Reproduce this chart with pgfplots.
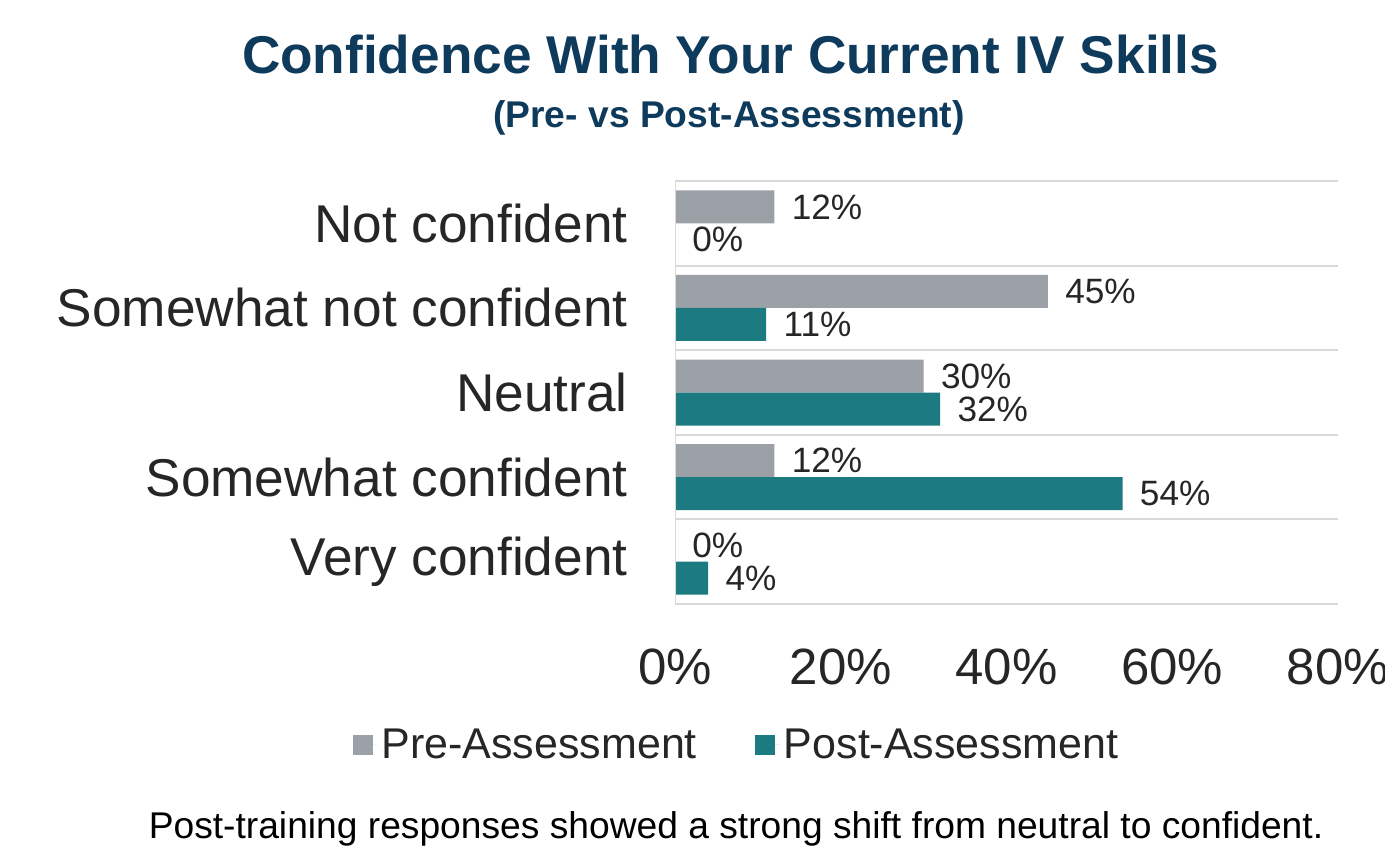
\documentclass[border=0pt]{standalone}
\usepackage{fontspec}
\setmainfont{Liberation Sans}
\usepackage{pgfplots}
\pgfplotsset{compat=1.18}

\definecolor{preGray}{RGB}{155,161,167}
\definecolor{postTeal}{RGB}{28,123,128}
\definecolor{titleBlue}{RGB}{14,58,92}
\definecolor{txt}{RGB}{38,38,38}
\definecolor{gridGray}{RGB}{217,217,217}

\begin{document}
\begin{tikzpicture}
\begin{axis}[
  at={(337.5pt,-302pt)}, anchor=south west,
  scale only axis,
  width=331.5pt, height=211.5pt,
  xbar, bar width=16.5pt,
  xmin=0, xmax=80, ymin=-0.5, ymax=4.5,
  axis line style={draw=none},
  xtick={0,20,40,60,80},
  xticklabel={\pgfmathprintnumber{\tick}\%},
  xticklabel style={font=\fontsize{25.5}{28}\selectfont, text=txt, anchor=north, inner sep=0pt, yshift=-22pt},
  ytick={0,1,2,3,4},
  yticklabels={Very confident,Somewhat confident,Neutral,Somewhat not confident,Not confident},
  yticklabel style={font=\fontsize{26.6}{30}\selectfont, text=txt, anchor=east, inner sep=0pt, xshift=-23.5pt},
  major tick length=0pt,
  extra y ticks={-0.5,0.5,1.5,2.5,3.5,4.5},
  extra y tick labels={},
  extra y tick style={grid=major, major grid style={draw=gridGray, line width=1pt}},
  /pgf/number format/assume math mode=true,
  point meta=x,
  nodes near coords={\pgfmathprintnumber{\pgfplotspointmeta}\%},
  nodes near coords style={anchor=west, inner sep=0pt, xshift=8.5pt, font=\fontsize{17.6}{20}\selectfont, text=txt},
  legend columns=2,
  legend style={draw=none, at={(0.0943,-0.333)}, anchor=center,
    font=\fontsize{21.5}{24}\selectfont, text=txt,
    nodes={inner sep=2pt},
    /tikz/every even column/.append style={column sep=27pt}},
  legend image code/.code={\fill[#1] (0pt,-5pt) rectangle (10pt,5pt); \path (0pt,0pt) -- (12.5pt,0pt);},
]
\addplot[fill=preGray, draw=none, bar shift=8.25pt] coordinates {
  (12,4) (45,3) (30,2) (12,1) (0,0)
};
\addlegendentry{Pre-Assessment}
\addplot[fill=postTeal, draw=none, bar shift=-8.25pt] coordinates {
  (0,4) (11,3) (32,2) (54,1) (4,0)
};
\addlegendentry{Post-Assessment}
\draw[gridGray, line width=1pt] (axis cs:0,-0.5) -- (axis cs:0,4.5);
\end{axis}
\begin{scope}[x=0.5pt, y=-0.5pt]
\node[anchor=base, inner sep=0pt, text=titleBlue, font=\fontsize{26.6}{30}\selectfont\bfseries] at (730.5,73) {Confidence With Your Current IV Skills};
\node[anchor=base, inner sep=0pt, text=titleBlue, font=\fontsize{18.6}{22}\selectfont\bfseries] at (729,127) {(Pre- vs Post-Assessment)};
\node[anchor=base, inner sep=0pt, text=black, font=\fontsize{18.6}{22}\selectfont] at (736,838) {Post-training responses showed a strong shift from neutral to confident.};
\end{scope}
\pgfresetboundingbox
\path[use as bounding box] (0,0) rectangle (692.5pt,-425.5pt);
\end{tikzpicture}
\end{document}
